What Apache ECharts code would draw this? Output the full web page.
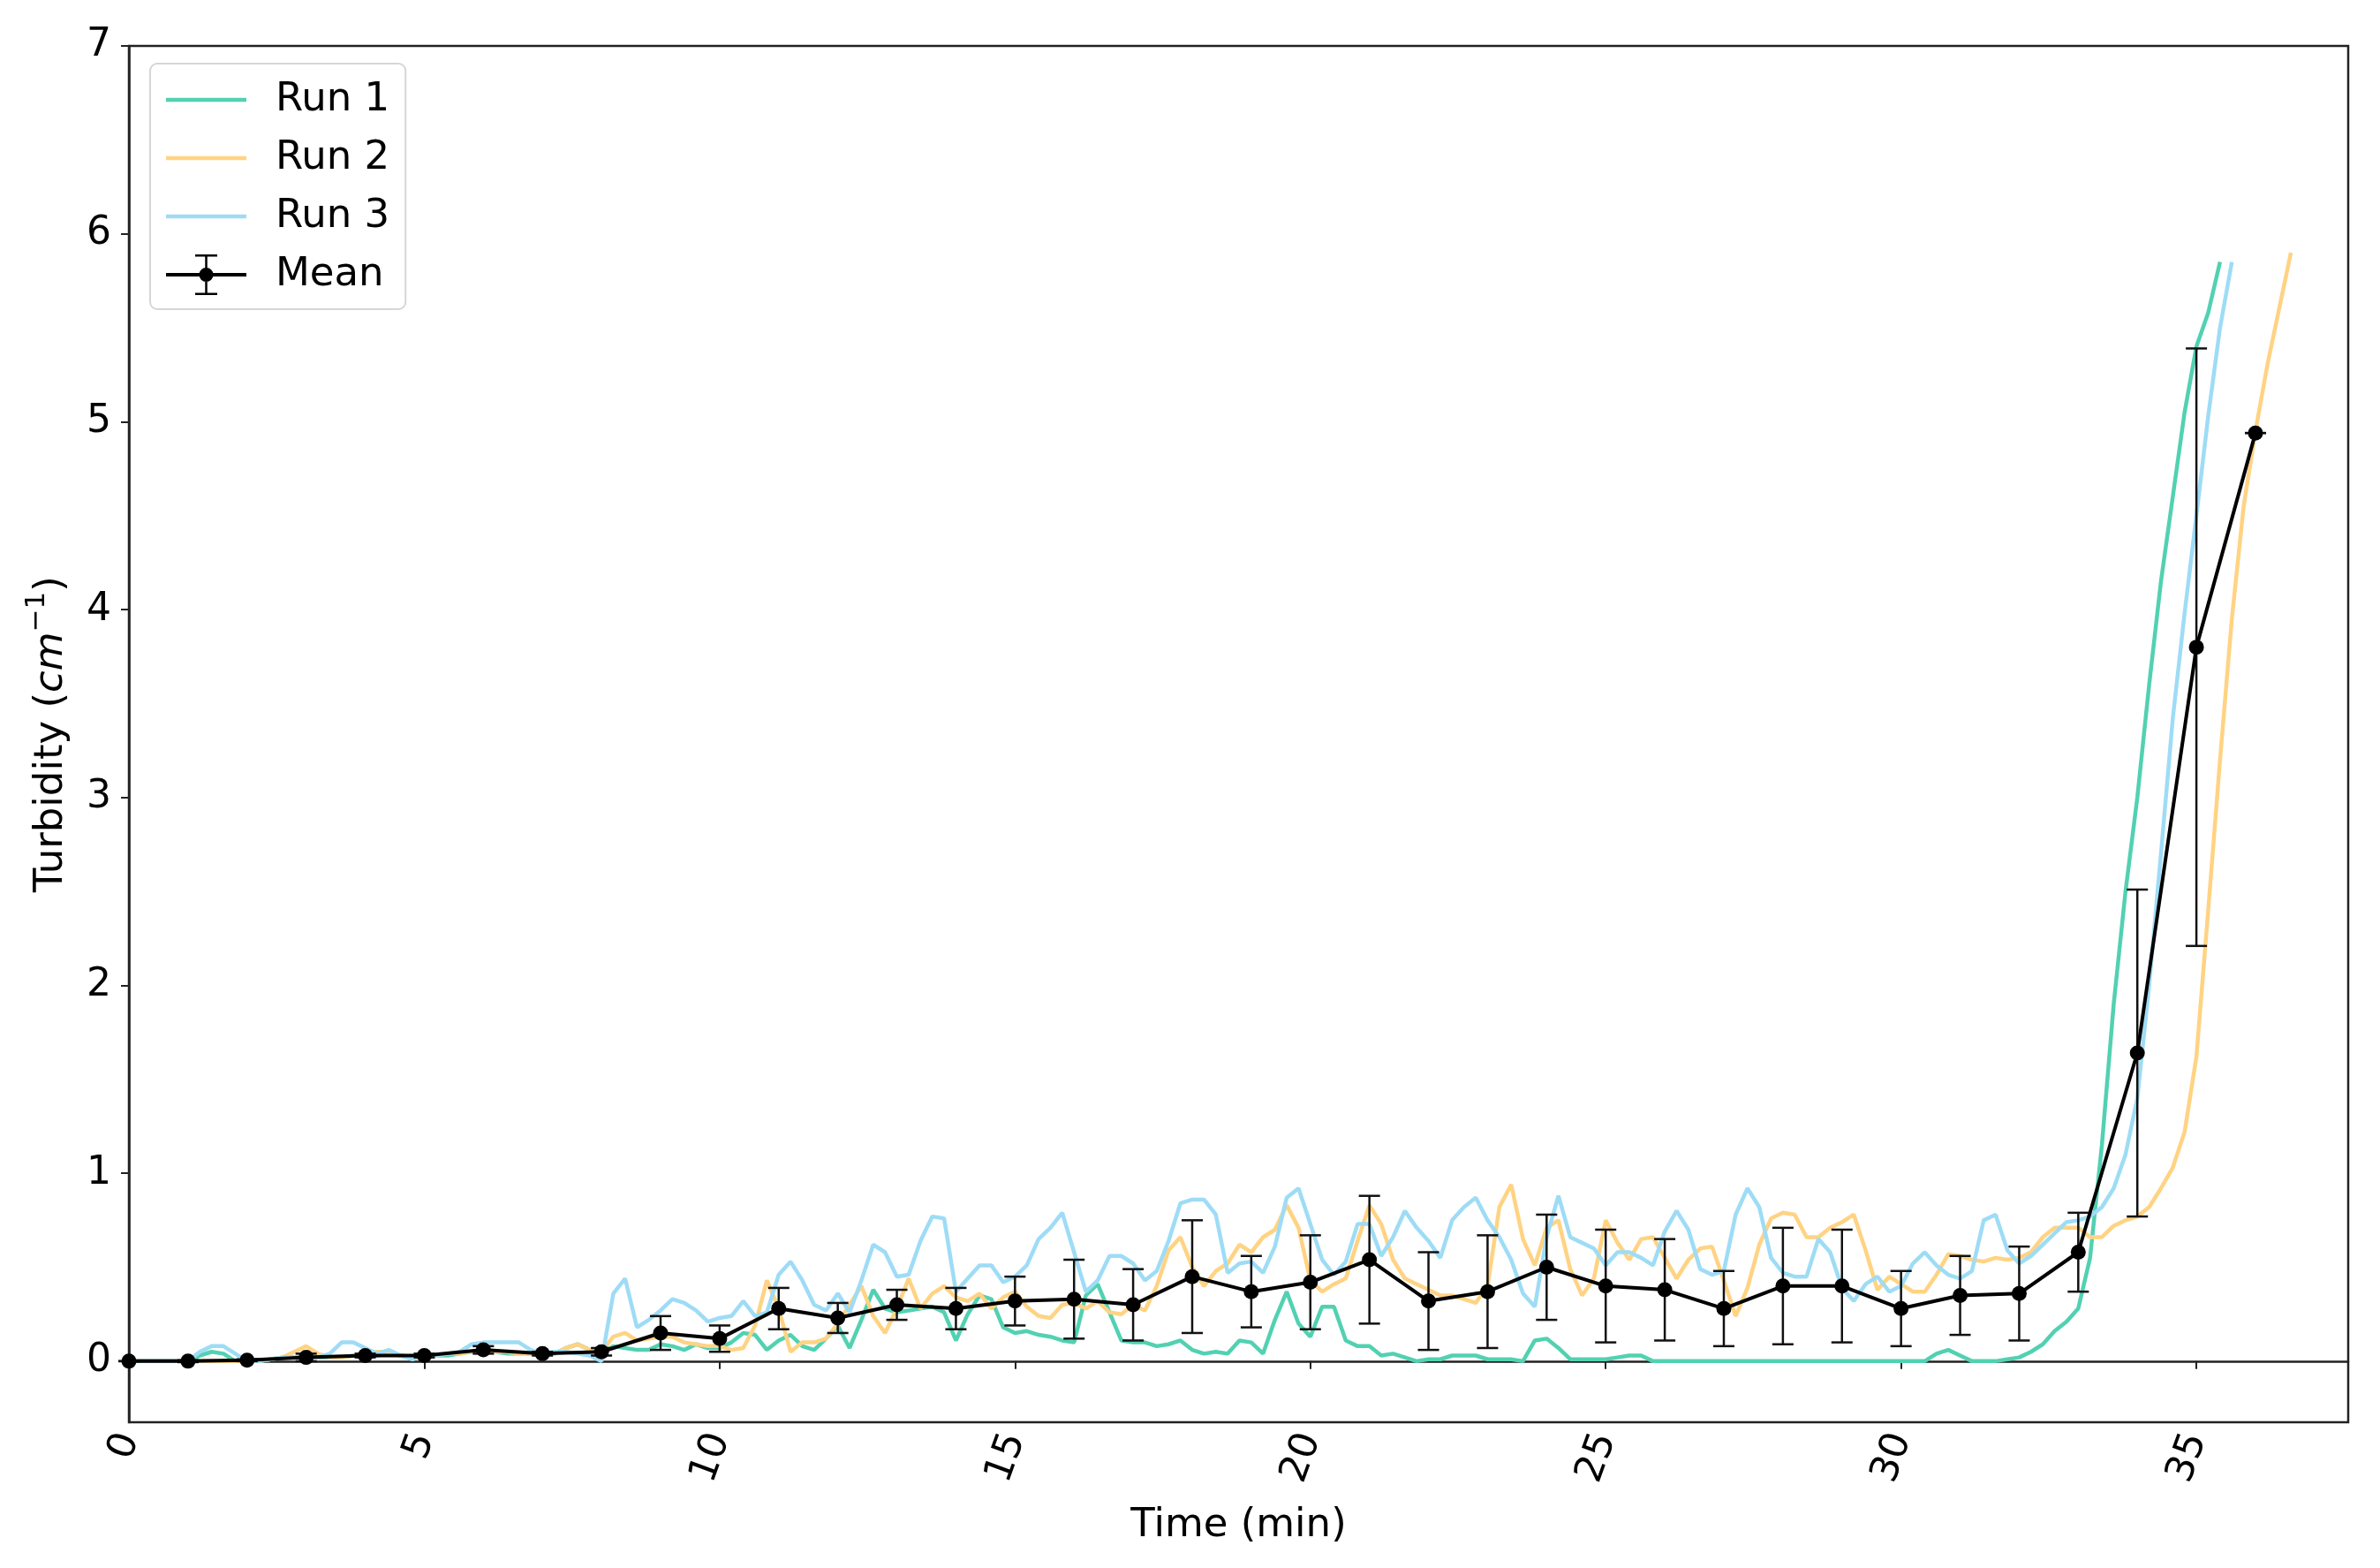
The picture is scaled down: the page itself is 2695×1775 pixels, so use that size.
<!DOCTYPE html>
<html><head><meta charset="utf-8">
<script src="https://cdn.jsdelivr.net/npm/echarts@6/dist/echarts.min.js"></script>
<style>html,body{margin:0;padding:0;background:#fff}#c{width:2695px;height:1775px}</style>
</head><body><div id="c"></div>
<script>
// sampling interval of each run (minutes)
const SAMPLE_STEP = 0.2;

// Run values, grouped per minute (k.0, k.2, k.4, k.6, k.8)
const run1 = [
  0,0,0,0,0,
  0,0.03,0.05,0.04,0.00,
  0.00,0.00,0.01,0.02,0.02,
  0.03,0.02,0.02,0.02,0.03,
  0.03,0.03,0.04,0.03,0.02,
  0.03,0.03,0.03,0.04,0.05,
  0.05,0.05,0.04,0.04,0.04,
  0.03,0.04,0.07,0.09,0.06,
  0.04,0.08,0.07,0.06,0.06,
  0.09,0.08,0.06,0.09,0.07,
  0.07,0.10,0.15,0.14,0.06,
  0.11,0.14,0.08,0.06,0.12,
  0.19,0.07,0.22,0.38,0.28,
  0.26,0.27,0.28,0.29,0.26,
  0.11,0.25,0.35,0.33,0.18,
  0.15,0.16,0.14,0.13,0.11,
  0.10,0.35,0.41,0.26,0.11,
  0.10,0.10,0.08,0.09,0.11,
  0.06,0.04,0.05,0.04,0.11,
  0.10,0.04,0.22,0.37,0.20,
  0.13,0.29,0.29,0.11,0.08,
  0.08,0.03,0.04,0.02,0.00,
  0.01,0.01,0.03,0.03,0.03,
  0.01,0.01,0.01,0.00,0.11,
  0.12,0.07,0.01,0.01,0.01,
  0.01,0.02,0.03,0.03,0.00,
  0,0,0,0,0,
  0,0,0,0,0,
  0,0,0,0,0,
  0,0,0,0,0,
  0,0,0,0.04,0.06,
  0.03,0.00,0.00,0.00,0.01,
  0.02,0.05,0.09,0.16,0.21,
  0.28,0.55,1.15,1.90,2.50,
  3.00,3.60,4.15,4.60,5.05,
  5.40,5.58,5.85
];
const run2 = [
  0,0,0,0,0,
  0,0,0,0,0,
  0,0,0.01,0.02,0.05,
  0.08,0.04,0.02,0.02,0.03,
  0.03,0.05,0.05,0.03,0.02,
  0.03,0.03,0.04,0.04,0.05,
  0.05,0.05,0.05,0.04,0.04,
  0.03,0.04,0.07,0.09,0.06,
  0.05,0.13,0.15,0.11,0.12,
  0.13,0.13,0.10,0.09,0.08,
  0.08,0.06,0.07,0.19,0.43,
  0.28,0.05,0.10,0.10,0.12,
  0.20,0.30,0.40,0.24,0.15,
  0.28,0.44,0.28,0.36,0.40,
  0.34,0.32,0.36,0.28,0.34,
  0.37,0.29,0.24,0.23,0.30,
  0.31,0.28,0.32,0.26,0.25,
  0.30,0.27,0.40,0.59,0.66,
  0.50,0.40,0.48,0.52,0.62,
  0.58,0.66,0.70,0.83,0.71,
  0.43,0.37,0.41,0.44,0.64,
  0.83,0.73,0.54,0.44,0.41,
  0.38,0.35,0.35,0.33,0.31,
  0.40,0.82,0.94,0.65,0.51,
  0.71,0.75,0.49,0.35,0.44,
  0.75,0.63,0.54,0.65,0.66,
  0.55,0.44,0.54,0.60,0.61,
  0.43,0.24,0.39,0.62,0.76,
  0.79,0.78,0.66,0.66,0.71,
  0.74,0.78,0.59,0.38,0.45,
  0.41,0.37,0.37,0.46,0.57,
  0.56,0.54,0.53,0.55,0.54,
  0.55,0.58,0.66,0.71,0.71,
  0.71,0.66,0.66,0.72,0.75,
  0.77,0.82,0.92,1.03,1.22,
  1.62,2.40,3.20,3.95,4.55,
  4.95,5.30,5.60,5.90
];
const run3 = [
  0,0,0,0,0,
  0,0.05,0.08,0.08,0.04,
  0.00,0.00,0.01,0.02,0.02,
  0.02,0.02,0.04,0.10,0.10,
  0.07,0.04,0.06,0.03,0.01,
  0.03,0.03,0.04,0.05,0.09,
  0.10,0.10,0.10,0.10,0.06,
  0.04,0.05,0.05,0.04,0.03,
  0.00,0.36,0.44,0.18,0.22,
  0.27,0.33,0.31,0.27,0.21,
  0.23,0.24,0.32,0.24,0.26,
  0.46,0.53,0.43,0.30,0.27,
  0.36,0.26,0.43,0.62,0.58,
  0.45,0.46,0.64,0.77,0.76,
  0.37,0.44,0.51,0.51,0.42,
  0.45,0.51,0.65,0.71,0.79,
  0.58,0.37,0.43,0.56,0.56,
  0.52,0.43,0.48,0.64,0.84,
  0.86,0.86,0.78,0.47,0.52,
  0.53,0.47,0.61,0.87,0.92,
  0.73,0.54,0.46,0.53,0.73,
  0.73,0.56,0.66,0.80,0.71,
  0.64,0.55,0.75,0.82,0.87,
  0.75,0.66,0.54,0.36,0.29,
  0.66,0.88,0.66,0.63,0.60,
  0.51,0.58,0.58,0.55,0.51,
  0.69,0.80,0.70,0.49,0.46,
  0.48,0.78,0.92,0.82,0.55,
  0.47,0.45,0.45,0.65,0.58,
  0.39,0.32,0.41,0.45,0.37,
  0.40,0.52,0.58,0.51,0.46,
  0.44,0.48,0.75,0.78,0.59,
  0.52,0.56,0.62,0.68,0.74,
  0.75,0.77,0.82,0.92,1.10,
  1.40,2.00,2.70,3.42,3.98,
  4.50,5.03,5.50,5.85
];

// Mean of the runs, sampled each minute, with error (std) half-widths
const meanTimes = [0,1,2,3,4,5,6,7,8,9,10,11,12,13,14,15,16,17,18,19,20,21,22,23,24,25,26,27,28,29,30,31,32,33,34,35,36];
const meanValues = [0.00,0.00,0.005,0.02,0.03,0.03,0.06,0.04,0.05,0.15,0.12,0.28,0.23,0.30,0.28,0.32,0.33,0.30,0.45,0.37,0.42,0.54,0.32,0.37,0.50,0.40,0.38,0.28,0.40,0.40,0.28,0.35,0.36,0.58,1.64,3.80,4.94];
const meanErrors = [0.00,0.005,0.005,0.02,0.01,0.01,0.02,0.01,0.02,0.09,0.07,0.11,0.08,0.08,0.11,0.13,0.21,0.19,0.30,0.19,0.25,0.34,0.26,0.30,0.28,0.30,0.27,0.20,0.31,0.30,0.20,0.21,0.25,0.21,0.87,1.59,0.00];

const xTicks = [0,5,10,15,20,25,30,35];
const yTicks = [0,1,2,3,4,5,6,7];

const FONT = 'DejaVu Sans';
const FS = 45;
const toPairs = vals => vals.map((v, i) => [Math.round(i * SAMPLE_STEP * 10) / 10, v]);

const lineIcon = 'path://M0,0H0.01V0.01H0Z M0,20.75H91V25.25H0Z M90.99,45.99H91V46H90.99Z';
const meanIcon = 'path://M0,21H91V25H0Z M44.25,0H46.75V46H44.25Z M33,0H58V2.5H33Z M33,43.5H58V46H33Z M37.5,23A8,8 0 1 1 53.5,23A8,8 0 1 1 37.5,23Z';

const chart = echarts.init(document.getElementById('c'), null, {renderer: 'canvas'});
chart.setOption({
  animation: false,
  backgroundColor: '#fff',
  textStyle: {fontFamily: FONT},
  grid: {left: 146, right: 36, top: 52, bottom: 165, show: true, borderColor: '#222', borderWidth: 2.5, backgroundColor: 'transparent'},
  xAxis: {
    type: 'value', min: 0, max: 37.57,
    name: 'Time (min)', nameLocation: 'middle', nameGap: 95,
    nameTextStyle: {fontSize: FS, color: '#000', fontFamily: FONT},
    axisLine: {show: true, lineStyle: {color: '#222', width: 2.5}},
    axisTick: {show: true, length: 9, lineStyle: {color: '#222', width: 2}, customValues: xTicks},
    axisLabel: {rotate: 70, fontSize: 44, color: '#000', fontFamily: FONT, margin: 14, padding: [18, 0, 0, 0], customValues: xTicks},
    splitLine: {show: false}
  },
  yAxis: {
    type: 'value', min: -0.325, max: 7,
    name: 'Turbidity ({i|cm}{s|−1})', nameLocation: 'middle', nameGap: 56, nameRotate: 90,
    nameTextStyle: {fontSize: FS, color: '#000', fontFamily: FONT,
      rich: {
        i: {fontSize: FS, fontStyle: 'italic', color: '#000', fontFamily: FONT},
        s: {fontSize: 31, color: '#000', fontFamily: FONT, verticalAlign: 'top', lineHeight: 64}
      }},
    axisLine: {show: true, lineStyle: {color: '#222', width: 2.5}},
    axisTick: {show: true, length: 9, lineStyle: {color: '#222', width: 2}, customValues: yTicks},
    axisLabel: {fontSize: 44, color: '#000', fontFamily: FONT, margin: 20, customValues: yTicks},
    splitLine: {show: false}
  },
  legend: {
    orient: 'vertical', left: 170, top: 72,
    data: [{name: 'Run 1', icon: lineIcon}, {name: 'Run 2', icon: lineIcon}, {name: 'Run 3', icon: lineIcon}, {name: 'Mean', icon: meanIcon}],
    itemWidth: 91, itemHeight: 46, itemGap: 20,
    textStyle: {fontSize: FS, color: '#000', fontFamily: FONT, padding: [0, 0, 0, 28]},
    backgroundColor: 'rgba(255,255,255,0.8)', borderColor: '#d6d6d6', borderWidth: 2, borderRadius: 8,
    padding: [18, 18, 16, 18]
  },
  series: [
    {name: 'Run 1', type: 'line', data: toPairs(run1), symbol: 'none', lineStyle: {color: '#52d1b2', width: 4.5}, itemStyle: {color: '#52d1b2'}, z: 2},
    {name: 'Run 2', type: 'line', data: toPairs(run2), symbol: 'none', lineStyle: {color: '#ffd383', width: 4.5}, itemStyle: {color: '#ffd383'}, z: 2},
    {name: 'Run 3', type: 'line', data: toPairs(run3), symbol: 'none', lineStyle: {color: '#9edcf6', width: 4.5}, itemStyle: {color: '#9edcf6'}, z: 2},
    {
      name: 'Mean error', type: 'custom', z: 5,
      data: meanTimes.map((t, i) => [t, meanValues[i] - meanErrors[i], meanValues[i] + meanErrors[i]]),
      encode: {x: 0, y: [1, 2]},
      renderItem: function (params, api) {
        const x = api.value(0);
        const lo = api.coord([x, api.value(1)]);
        const hi = api.coord([x, api.value(2)]);
        const cw = 12;
        const st = {stroke: '#111', lineWidth: 2.5};
        return {type: 'group', children: [
          {type: 'line', shape: {x1: lo[0], y1: lo[1], x2: hi[0], y2: hi[1]}, style: st},
          {type: 'line', shape: {x1: lo[0] - cw, y1: lo[1], x2: lo[0] + cw, y2: lo[1]}, style: st},
          {type: 'line', shape: {x1: hi[0] - cw, y1: hi[1], x2: hi[0] + cw, y2: hi[1]}, style: st}
        ]};
      }
    },
    {name: 'Mean', type: 'line', data: meanTimes.map((t, i) => [t, meanValues[i]]),
      symbol: 'circle', symbolSize: 17, showAllSymbol: true,
      lineStyle: {color: '#000', width: 4}, itemStyle: {color: '#000'}, z: 6}
  ]
});
</script>
</body></html>
